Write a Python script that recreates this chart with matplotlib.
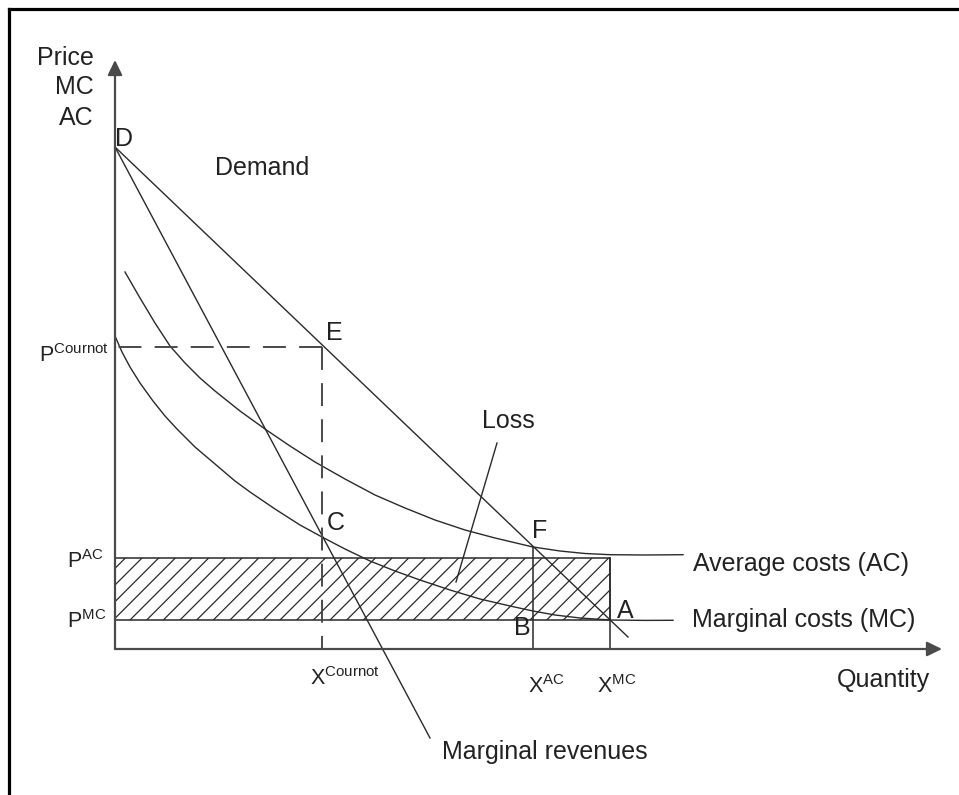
import matplotlib
matplotlib.use('Agg')
import matplotlib.pyplot as plt
from matplotlib.patches import Rectangle
from matplotlib.lines import Line2D

# demand and marginal revenue, both start at D on the price axis
demand_q = [0.0, 51.3]
demand_p = [50.2, 1.2]
mr_q = [0.0, 31.5]
mr_p = [50.2, -8.9]

# cost curves
ac_q = [1.0, 2.5, 4.0, 5.5, 7.0, 8.5, 10.0, 12.5, 15.0, 17.5, 20.0, 23.0,
        26.0, 29.0, 32.0, 35.0, 38.0, 41.8, 44.5, 47.0, 49.5, 53.0, 56.8]
ac_p = [37.7, 35.1, 32.6, 30.3, 28.6, 27.1, 25.8, 23.8, 22.0, 20.3, 18.7, 17.0,
        15.4, 14.1, 12.9, 11.9, 11.1, 10.2, 9.8, 9.55, 9.43, 9.4, 9.43]
mc_q = [0.0, 0.7, 1.5, 2.5, 3.8, 5.0, 6.2, 8.0, 10.0, 12.0, 13.5, 16.0, 18.5,
        20.7, 23.0, 25.5, 28.0, 30.5, 33.5, 36.5, 39.5, 41.8, 44.0, 46.5,
        49.5, 53.0, 55.8]
mc_p = [31.3, 29.7, 28.2, 26.6, 24.8, 23.3, 22.0, 20.2, 18.5, 16.8, 15.7, 14.0,
        12.4, 11.2, 10.0, 8.8, 7.8, 6.9, 5.9, 5.0, 4.3, 3.8, 3.4, 3.1,
        2.9, 2.86, 2.87]

# key quantities / prices
x_cournot, p_cournot = 20.7, 30.2
x_ac, x_mc = 41.8, 49.5
p_ac, p_mc = 9.15, 2.9
p_f = 10.2

# pointer from the "Loss" label into the shaded area
loss_q = [38.2, 34.1]
loss_p = [20.6, 6.7]

q_top, p_top = 82.7, 58.9

plt.rcParams['font.family'] = 'Liberation Sans'
plt.rcParams['mathtext.fontset'] = 'custom'
plt.rcParams['mathtext.rm'] = 'Liberation Sans'
plt.rcParams['mathtext.it'] = 'Liberation Sans'
plt.rcParams['lines.scale_dashes'] = False
plt.rcParams['hatch.linewidth'] = 0.9
plt.rcParams['hatch.color'] = '#222222'

line_col = '#2a2a2a'
axis_col = '#4a4a4a'
txt_col = '#222222'
fs = 18      # plain labels
fs_sup = 15.5  # P / X labels with superscripts

fig = plt.figure(figsize=(9.59, 7.95), dpi=100)
ax = fig.add_axes([0, 0, 1, 1])
ax.set_xlim(-11.5, 84.4)
ax.set_ylim(-14.6, 64.9)
ax.axis('off')

# frame (only top and left edges show in the crop)
fig.add_artist(Line2D([9/959, 1], [1 - 9/795, 1 - 9/795], color='black', lw=2.3))
fig.add_artist(Line2D([9/959, 9/959], [0, 1 - 9/795], color='black', lw=2.3))

# axes with arrow heads
arrow_kw = dict(arrowstyle='-|>,head_length=0.45,head_width=0.22', color=axis_col,
                lw=1.6, shrinkA=0, shrinkB=0, mutation_scale=20)
ax.annotate('', xy=(0, p_top), xytext=(0, 0), arrowprops=arrow_kw)
ax.annotate('', xy=(q_top, 0), xytext=(0, 0), arrowprops=arrow_kw)

# loss rectangle
ax.add_patch(Rectangle((0, p_mc), x_mc, p_ac - p_mc, facecolor='none',
                       edgecolor=line_col, hatch='//', lw=1.1))

ax.plot(demand_q, demand_p, color=line_col, lw=1.0)
ax.plot(mr_q, mr_p, color=line_col, lw=1.0)
ax.plot(ac_q, ac_p, color=line_col, lw=1.0, solid_joinstyle='round')
ax.plot(mc_q, mc_p, color=line_col, lw=1.0, solid_joinstyle='round')

# Cournot guides, dashed from E back to the axes
dash = (0, (16.5, 9.5))
ax.plot([x_cournot, 0], [p_cournot, p_cournot], color=axis_col, lw=1.4, linestyle=dash)
ax.plot([x_cournot, x_cournot], [p_cournot, 0], color=axis_col, lw=1.4, linestyle=dash)

ax.plot([x_ac, x_ac], [0, p_f], color=line_col, lw=1.1)
ax.plot([x_mc, x_mc], [0, p_ac], color=line_col, lw=1.1)
ax.plot(loss_q, loss_p, color=line_col, lw=1.0)

def label(x, y, s, ha='left', size=fs):
    ax.text(x, y, s, ha=ha, va='baseline', fontsize=size, color=txt_col)

label(-2.1, 58.4, 'Price', ha='right')
label(-2.1, 55.5, 'MC', ha='right')
label(-2.1, 52.4, 'AC', ha='right')

label(0.0, 50.3, 'D')
label(10.0, 47.4, 'Demand')
label(21.1, 30.9, 'E')
label(21.2, 11.9, 'C')
label(41.7, 11.1, 'F')
label(50.2, 3.1, 'A')
label(39.9, 1.4, 'B')
label(36.7, 22.1, 'Loss')

label(57.8, 7.8, 'Average costs (AC)')
label(57.7, 2.2, 'Marginal costs (MC)')
label(32.7, -11.0, 'Marginal revenues')
label(81.5, -3.8, 'Quantity', ha='right')

label(-7.6, 28.7, r'$\mathrm{P^{Cournot}}$', size=fs_sup)
label(-4.8, 8.1, r'$\mathrm{P^{AC}}$', size=fs_sup)
label(-4.8, 2.1, r'$\mathrm{P^{MC}}$', size=fs_sup)

label(19.5, -3.6, r'$\mathrm{X^{Cournot}}$', size=fs_sup)
label(41.3, -4.4, r'$\mathrm{X^{AC}}$', size=fs_sup)
label(48.2, -4.4, r'$\mathrm{X^{MC}}$', size=fs_sup)

fig.savefig('out.png', dpi=100, facecolor='white')
